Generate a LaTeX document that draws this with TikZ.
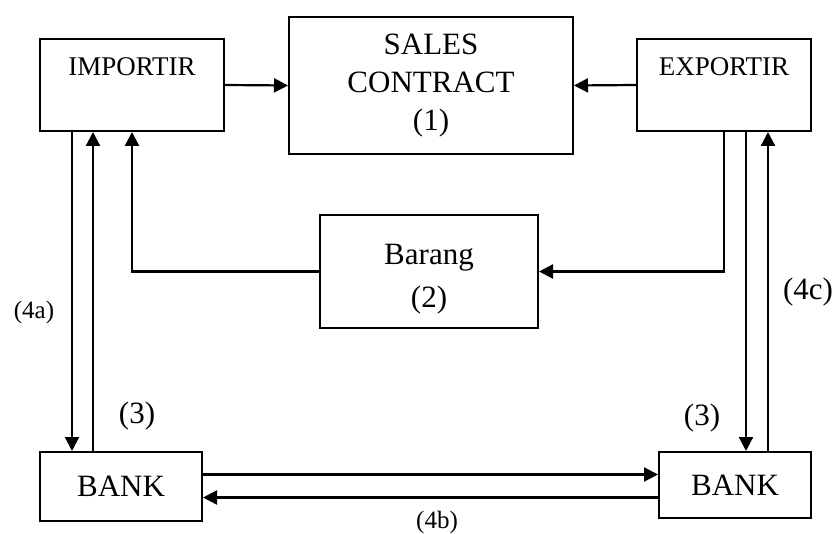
\documentclass[tikz,border=0pt]{standalone}
\usepackage{fontspec}
\setmainfont{Liberation Serif}
\usetikzlibrary{arrows.meta}

\begin{document}
\begin{tikzpicture}[x=1pt,y=-1pt,
  box/.style={draw, line width=2pt, inner sep=0pt},
  link/.style={line width=2.2pt},
  tip/.style={link, -{Triangle[length=14pt,width=14pt]}},
  big/.style={font=\fontsize{31}{38}\selectfont},
  mid/.style={font=\fontsize{27}{30}\selectfont},
  small/.style={font=\fontsize{25}{28}\selectfont},
  toptext/.style={label={[mid,anchor=center,yshift=-29pt]north:#1}}]
\useasboundingbox (0,0) rectangle (838,534);
\node[box, minimum width=184pt, minimum height=92pt, toptext=IMPORTIR] (imp) at (132,85) {};
\node[box, minimum width=174pt, minimum height=92pt, toptext=EXPORTIR] (exp) at (724,85) {};
\node[box, big, align=center, minimum width=284pt, minimum height=137pt] (sales) at (431,85.5) {SALES\\CONTRACT\\(1)};
\node[box, minimum width=218pt, minimum height=113pt,
  label={[font=\fontsize{31}{43}\selectfont, align=center, anchor=center, yshift=-8pt]center:Barang\\(2)}] (barang) at (429,271.5) {};
\node[box, big, minimum width=162pt, minimum height=69pt] (bankL) at (121,486.5) {BANK};
\node[box, big, minimum width=152pt, minimum height=66pt] (bankR) at (735,485) {BANK};
\coordinate (impdown) at ([xshift=-60pt]imp.south);
\coordinate (impup) at ([xshift=-39pt]imp.south);
\coordinate (expdown) at ([xshift=22pt]exp.south);
\coordinate (expup) at ([xshift=44pt]exp.south);
\coordinate (bankgo) at ([yshift=12pt]bankL.east);
\coordinate (bankback) at ([yshift=-11pt]bankL.east);
\draw[tip] (imp.east) -- (sales.west);
\draw[tip] (exp.west) -- (sales.east);
\draw[tip] (exp.south) |- (barang.east);
\draw[tip] (barang.west) -| (imp.south);
\draw[tip] (impdown) -- (impdown |- bankL.north);
\draw[tip] (impup |- bankL.north) -- (impup);
\draw[tip] (expdown) -- (expdown |- bankR.north);
\draw[tip] (expup |- bankR.north) -- (expup);
\draw[tip] (bankgo) -- (bankgo -| bankR.west);
\draw[tip] (bankback -| bankR.west) -- (bankback);
\node[small] (la) at (34,312) {(4a)};
\node[big] (lbL) at (137,416) {(3)};
\node[big] (lbR) at (702,418) {(3)};
\node[big] (lc) at (808,292) {(4c)};
\node[small] (lb) at (437,522) {(4b)};
\end{tikzpicture}
\end{document}
